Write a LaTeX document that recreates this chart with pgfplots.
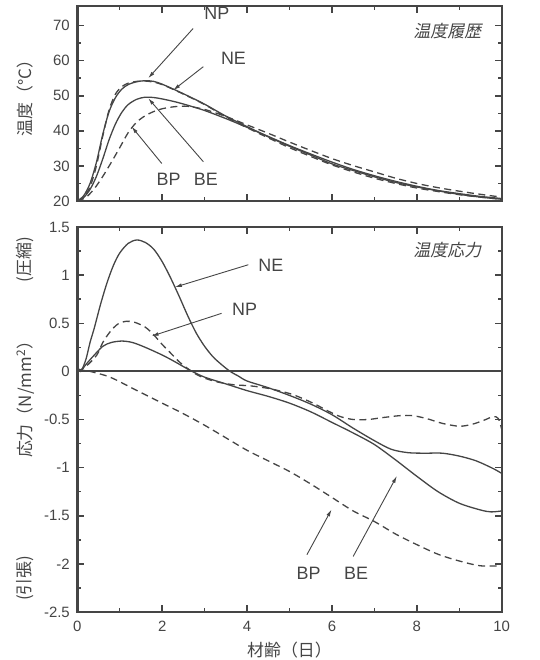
\documentclass[border=0pt]{standalone}
\usepackage{fontspec}
\setmainfont{Liberation Sans}
\newfontfamily\cjk{Noto Sans CJK JP}
\newfontfamily\cjksl[FakeSlant=0.2]{Noto Sans CJK JP}
\usepackage{pgfplots}
\pgfplotsset{compat=1.18}
\usetikzlibrary{arrows.meta}
\definecolor{ink}{gray}{0.27}
\tikzset{
  sol/.style={ink, line width=1.3bp, smooth, mark=none},
  dsh/.style={ink, line width=1.3bp, smooth, mark=none, dash pattern=on 7bp off 4.5bp},
  arr/.style={ink, line width=0.9bp, -{Latex[length=7bp,width=3.8bp]}},
  lab/.style={text=ink, font=\fontsize{18}{18}\selectfont},
  ylab/.style={text=ink, rotate=90, font=\cjk\fontsize{17}{17}\selectfont},
}
\pgfplotsset{
  myax/.style={
    scale only axis, width=424.4bp, xmin=0, xmax=10,
    axis line style={ink, line width=2.4bp},
    every outer x axis line/.append style={line width=2.4bp},
    every outer y axis line/.append style={line width=2.4bp},
    tick style={ink, line width=1.5bp},
    major tick length=7bp, minor tick length=4bp,
    tick align=inside, minor x tick num=1, minor y tick num=1,
    xtick={0,2,4,6,8,10},
    ticklabel style={font=\fontsize{15}{15}\selectfont, text=ink},
    yticklabel style={xshift=-4bp},
    xticklabel style={yshift=-6bp},
    /pgf/number format/assume math mode=true,
    clip=false,
  },
}
\begin{document}
\begin{tikzpicture}
\path[use as bounding box] (0,0) rectangle (540bp,660bp);
% ---------------- top panel: temperature ----------------
\begin{axis}[myax, at={(77.3bp,459bp)}, anchor=south west, height=195bp,
  ymin=20, ymax=75.6, ytick={20,30,40,50,60,70}, xticklabels={}]
% NE
\addplot[sol] coordinates {(0,20)(0.15,21.5)(0.3,25)(0.45,31)(0.6,39)(0.75,45.5)(0.9,49.5)(1.05,51.9)(1.2,53.2)(1.4,54)(1.6,54.3)(1.8,54.1)(2.0,53.3)(2.3,51.7)(2.6,50)(3.0,47.6)(3.5,44.2)(4.0,41.2)(4.5,38.3)(5.0,35.6)(5.5,33.1)(6.0,30.6)(6.5,28.7)(7.0,26.9)(7.5,25.3)(8.0,24)(8.5,22.9)(9.0,21.9)(9.5,21.1)(10,20.5)};
% NP
\addplot[dsh] coordinates {(0,20)(0.15,21.2)(0.3,24)(0.45,30)(0.6,38.5)(0.75,46)(0.9,50.5)(1.05,52.6)(1.2,53.6)(1.4,54.1)(1.6,54.2)(1.8,53.9)(2.0,53.2)(2.3,51.6)(2.6,49.9)(3.0,47.5)(3.5,44)(4.0,40.9)(4.5,38)(5.0,35.2)(5.5,32.7)(6.0,30.3)(6.5,28.3)(7.0,26.5)(7.5,25)(8.0,23.7)(8.5,22.7)(9.0,21.8)(9.5,21.1)(10,20.5)};
% BE
\addplot[sol] coordinates {(0,20)(0.15,21)(0.3,23.3)(0.45,27)(0.6,32)(0.75,37.5)(0.9,42)(1.05,45.3)(1.2,47.5)(1.4,49)(1.6,49.6)(1.8,49.5)(2.0,49.1)(2.3,48.3)(2.6,47.3)(3.0,45.8)(3.5,43.5)(4.0,41)(4.5,38.4)(5.0,35.8)(5.5,33.4)(6.0,31.1)(6.5,29)(7.0,27.2)(7.5,25.6)(8.0,24.2)(8.5,23)(9.0,22.1)(9.5,21.3)(10,20.7)};
% BP
\addplot[dsh] coordinates {(0,20)(0.2,21)(0.4,23.5)(0.6,27)(0.8,31)(1.0,35.2)(1.2,39.5)(1.4,42.5)(1.6,44.3)(1.8,45.5)(2.0,46.3)(2.3,46.9)(2.6,47)(3.0,46.1)(3.5,44.1)(4.0,41.7)(4.5,39.3)(5.0,36.8)(5.5,34.4)(6.0,32.1)(6.5,30.1)(7.0,28.3)(7.5,26.5)(8.0,25)(8.5,23.8)(9.0,22.8)(9.5,21.9)(10,21.1)};
% annotations
\draw[arr] (axis cs:2.73,69.2) -- (axis cs:1.67,55.0);
\draw[arr] (axis cs:2.97,58.3) -- (axis cs:2.26,51.6);
\draw[arr] (axis cs:1.99,30.7) -- (axis cs:1.28,41.2);
\draw[arr] (axis cs:2.97,31.2) -- (axis cs:1.67,49.3);
\node[lab] at (axis cs:3.29,73.6) {NP};
\node[lab] at (axis cs:3.68,60.6) {NE};
\node[lab] at (axis cs:2.15,26.1) {BP};
\node[lab] at (axis cs:3.03,26.1) {BE};
\node[text=ink, anchor=east, font=\cjksl\fontsize{17}{17}\selectfont] at (axis cs:9.6,68.4) {温度履歴};
\node[ylab] at (axis cs:-1.23,50.6) {温度（°C）};
\end{axis}
% ---------------- bottom panel: stress ----------------
\begin{axis}[myax, at={(77.3bp,48bp)}, anchor=south west, height=385bp,
  ymin=-2.5, ymax=1.5, ytick={-2.5,-2,-1.5,-1,-0.5,0,0.5,1,1.5}]
\addplot[ink, line width=2bp, sharp plot, mark=none] coordinates {(0,0)(10,0)};
% NE
\addplot[sol] coordinates {(0,0.06)(0.08,0.0)(0.2,0.12)(0.3,0.3)(0.4,0.45)(0.55,0.7)(0.7,0.92)(0.85,1.1)(1.0,1.23)(1.2,1.33)(1.4,1.365)(1.6,1.34)(1.8,1.27)(2.0,1.14)(2.2,0.97)(2.4,0.78)(2.6,0.58)(2.8,0.4)(3.0,0.26)(3.2,0.15)(3.4,0.07)(3.6,0.0)(3.8,-0.05)(4.0,-0.1)(4.5,-0.17)(5.0,-0.25)(5.5,-0.34)(6.0,-0.45)(6.5,-0.59)(7.0,-0.72)(7.4,-0.81)(7.8,-0.845)(8.2,-0.85)(8.6,-0.85)(9.0,-0.88)(9.4,-0.93)(9.8,-1.01)(10,-1.06)};
% NP
\addplot[dsh] coordinates {(0,0.0)(0.2,0.05)(0.46,0.17)(0.6,0.3)(0.77,0.41)(0.95,0.49)(1.15,0.52)(1.35,0.51)(1.6,0.46)(1.8,0.38)(2.0,0.28)(2.2,0.19)(2.4,0.1)(2.6,0.03)(2.8,-0.03)(3.0,-0.07)(3.3,-0.11)(3.7,-0.14)(4.07,-0.15)(4.54,-0.18)(5.0,-0.23)(5.3,-0.28)(5.6,-0.34)(5.9,-0.41)(6.2,-0.47)(6.5,-0.50)(6.85,-0.50)(7.2,-0.48)(7.6,-0.46)(7.9,-0.46)(8.23,-0.49)(8.6,-0.54)(9.0,-0.57)(9.3,-0.55)(9.57,-0.51)(9.8,-0.47)(9.92,-0.49)(10,-0.6)};
% BE
\addplot[sol] coordinates {(0,0.05)(0.07,0.0)(0.2,0.07)(0.38,0.16)(0.6,0.26)(0.8,0.3)(1.05,0.315)(1.3,0.3)(1.6,0.25)(2.0,0.17)(2.3,0.1)(2.66,0.01)(3.0,-0.06)(3.5,-0.13)(4.0,-0.2)(4.5,-0.26)(5.0,-0.33)(5.5,-0.42)(6.0,-0.53)(6.5,-0.64)(7.0,-0.76)(7.5,-0.92)(8.0,-1.09)(8.5,-1.25)(9.0,-1.37)(9.5,-1.44)(9.75,-1.46)(10,-1.45)};
% BP
\addplot[dsh] coordinates {(0,0.02)(0.3,0.0)(0.77,-0.06)(1.32,-0.18)(2.0,-0.33)(2.5,-0.44)(3.0,-0.56)(3.5,-0.69)(4.0,-0.82)(4.5,-0.93)(5.0,-1.04)(5.5,-1.17)(6.0,-1.31)(6.5,-1.45)(7.0,-1.56)(7.5,-1.69)(8.0,-1.8)(8.5,-1.9)(9.0,-1.97)(9.5,-2.02)(10,-2.02)};
% annotations
\draw[arr] (axis cs:4.03,1.108) -- (axis cs:2.30,0.875);
\draw[arr] (axis cs:3.40,0.603) -- (axis cs:1.75,0.366);
\draw[arr] (axis cs:5.41,-1.905) -- (axis cs:5.99,-1.435);
\draw[arr] (axis cs:6.50,-1.923) -- (axis cs:7.53,-1.087);
\node[lab] at (axis cs:4.56,1.10) {NE};
\node[lab] at (axis cs:3.94,0.643) {NP};
\node[lab] at (axis cs:5.45,-2.095) {BP};
\node[lab] at (axis cs:6.57,-2.095) {BE};
\node[text=ink, anchor=east, font=\cjksl\fontsize{17}{17}\selectfont] at (axis cs:9.6,1.264) {温度応力};
\node[ylab] at (axis cs:-1.22,1.16) {(圧縮)};
\node[ylab] at (axis cs:-1.22,-0.25) {応力（N/mm\textsuperscript{2}）};
\node[ylab] at (axis cs:-1.22,-2.15) {(引張)};
\node[text=ink, font=\cjk\fontsize{17}{17}\selectfont] at (axis cs:5,-2.5) [yshift=-38bp] {材齢（日）};
\end{axis}
\end{tikzpicture}
\end{document}
